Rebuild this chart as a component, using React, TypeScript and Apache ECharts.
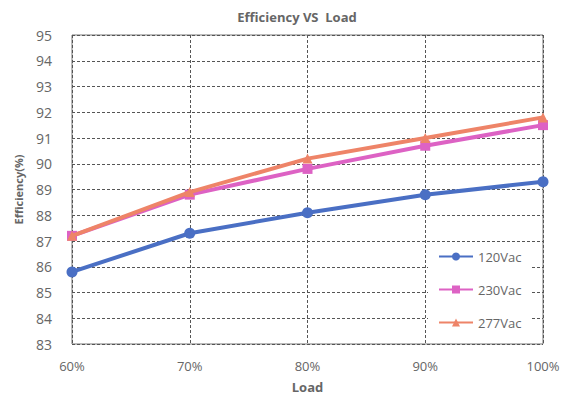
import React, { useEffect, useRef } from "react";
import * as echarts from "echarts";

const categories = ["60%", "70%", "80%", "90%", "100%"];
const v120 = [85.8, 87.3, 88.1, 88.8, 89.3];
const v230 = [87.2, 88.8, 89.8, 90.7, 91.5];
const v277 = [87.2, 88.9, 90.2, 91.0, 91.8];
const seriesNames = ["120Vac", "230Vac", "277Vac"];

export default function App() {
  const ref = useRef<HTMLDivElement>(null);
  useEffect(() => {
    const chart = echarts.init(ref.current!, null, { renderer: "svg" });
    const font = "Open Sans";
    const labelColor = "#666";
    chart.setOption({
      animation: false,
      backgroundColor: "#fff",
      title: {
        text: "Efficiency VS  Load",
        left: 292,
        top: 5,
        textAlign: "center",
        textStyle: { fontFamily: font, fontSize: 13, fontWeight: "bold", color: "#666" },
      },
      grid: { left: 72, right: 26, top: 35, bottom: 58, show: true, borderColor: "#777", borderWidth: 1 },
      legend: {
        orient: "vertical",
        left: 428,
        top: 246,
        itemGap: 20,
        itemWidth: 34,
        itemHeight: 10,
        backgroundColor: "#fff",
        padding: [4, 10, 4, 10],
        textStyle: { fontFamily: font, fontSize: 13, color: labelColor },
        data: seriesNames,
      },
      xAxis: {
        type: "category",
        data: categories,
        boundaryGap: false,
        name: "Load",
        nameLocation: "middle",
        nameGap: 36,
        nameTextStyle: { fontFamily: font, fontSize: 13, fontWeight: "bold", color: "#666" },
        axisLine: { show: false },
        axisTick: { show: false },
        axisLabel: { fontFamily: font, fontSize: 13, color: labelColor, margin: 15 },
        splitLine: { show: true, lineStyle: { color: "#555", type: [3, 2], width: 1 } },
      },
      yAxis: {
        type: "value",
        min: 83,
        max: 95,
        interval: 1,
        name: "Efficiency(%)",
        nameLocation: "middle",
        nameGap: 48,
        nameTextStyle: { fontFamily: font, fontSize: 11, fontWeight: "bold", color: "#666" },
        axisLine: { show: false },
        axisTick: { show: false },
        axisLabel: { fontFamily: font, fontSize: 14, color: labelColor, margin: 20 },
        splitLine: { show: true, lineStyle: { color: "#555", type: [3, 2], width: 1 } },
      },
      series: [
        {
          name: seriesNames[0],
          type: "line",
          data: v120,
          symbol: "circle",
          symbolSize: 11,
          color: "#4a6fc4",
          lineStyle: { width: 4 },
          z: 3,
        },
        {
          name: seriesNames[1],
          type: "line",
          data: v230,
          symbol: "rect",
          symbolSize: 10,
          color: "#dd62c4",
          lineStyle: { width: 4 },
          z: 4,
        },
        {
          name: seriesNames[2],
          type: "line",
          data: v277,
          symbol: "triangle",
          symbolSize: 10,
          color: "#ee8468",
          lineStyle: { width: 4 },
          z: 5,
        },
      ],
    });
    return () => chart.dispose();
  }, []);
  return <div ref={ref} style={{ width: 569, height: 402, margin: -8 }} />;
}
